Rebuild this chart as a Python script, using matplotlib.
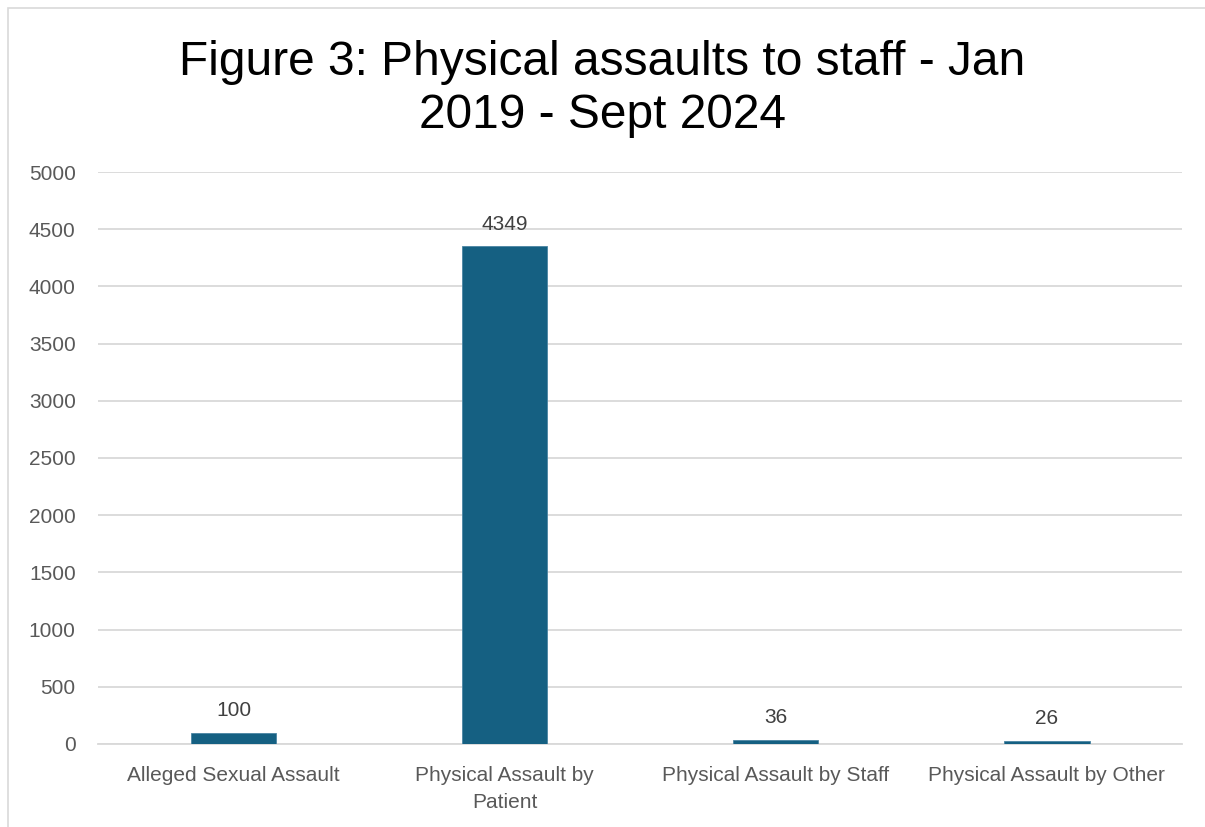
import matplotlib
matplotlib.use("Agg")
import matplotlib.pyplot as plt
from matplotlib.patches import Rectangle

categories = ["Alleged Sexual Assault", "Physical Assault by\nPatient",
              "Physical Assault by Staff", "Physical Assault by Other"]
values = [100, 4349, 36, 26]
yticks = [0, 500, 1000, 1500, 2000, 2500, 3000, 3500, 4000, 4500, 5000]

plt.rcParams['font.family'] = ['Liberation Sans', 'DejaVu Sans']
fig = plt.figure(figsize=(12.05, 8.27), dpi=100)
ax = fig.add_axes([0.0813, 0.1004, 0.9, 0.6916])

x = list(range(len(categories)))
bars = ax.bar(x, values, width=0.315, color="#156082", edgecolor="#4a85a3", linewidth=0.6, zorder=3)
for xi, v in zip(x, values):
    ax.text(xi, v + 110, str(v), ha="center", va="bottom", fontsize=15, color="#404040")

ax.set_xlim(-0.5, len(categories) - 0.5)
ax.set_ylim(0, 5000)
ax.set_yticks(yticks)
ax.set_yticklabels([str(t) for t in yticks])
ax.set_xticks(x)
ax.set_xticklabels(categories, linespacing=1.55)
ax.tick_params(axis="both", length=0, labelsize=15, colors="#595959")
ax.tick_params(axis="x", pad=16)
ax.tick_params(axis="y", pad=16)
ax.grid(axis="y", color="#d9d9d9", linewidth=1.3, zorder=0)
for s in ["top", "right", "left"]:
    ax.spines[s].set_visible(False)
ax.spines["bottom"].set_color("#d9d9d9")
ax.spines["bottom"].set_linewidth(1.3)

fig.text(0.5, 0.952, "Figure 3: Physical assaults to staff - Jan\n2019 - Sept 2024",
         ha="center", va="top", fontsize=34.5, color="black", linespacing=1.24)

fig.patches.append(Rectangle((8/1205, -0.1), 1.2, 1 - 8/827 + 0.1, transform=fig.transFigure,
                             fill=False, edgecolor="#d9d9d9", linewidth=1.2))

fig.savefig("out.png", dpi=100)
